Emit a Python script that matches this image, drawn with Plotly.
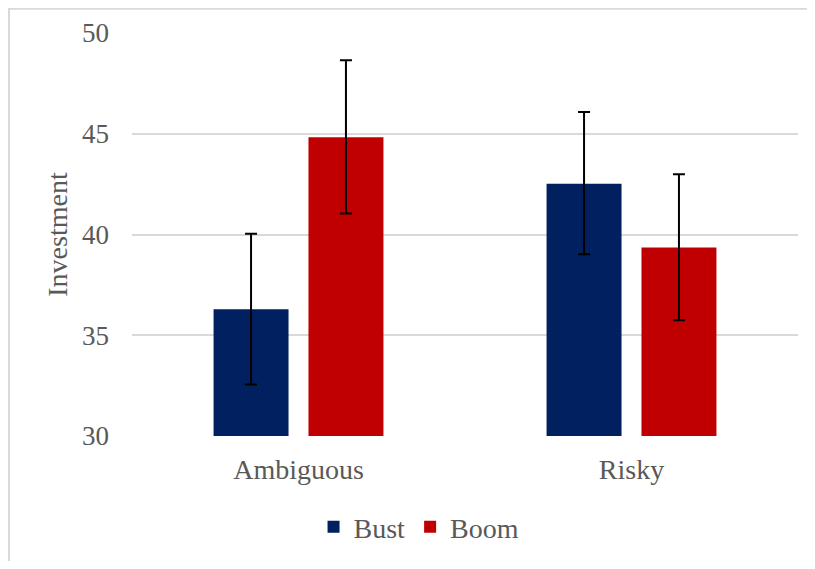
import plotly.graph_objects as go

categories = ["Ambiguous", "Risky"]
bust = [36.29, 42.52]
bust_hi = [40.04, 46.08]
bust_lo = [32.55, 39.02]
boom = [44.83, 39.35]
boom_hi = [48.65, 42.99]
boom_lo = [41.04, 35.74]
y_ticks = [30, 35, 40, 45, 50]

font_fam = "Liberation Serif, Times New Roman, serif"
gray = "#595959"

def err(vals, hi, lo, color="black"):
    return dict(type="data", symmetric=False,
                array=[h - v for h, v in zip(hi, vals)],
                arrayminus=[v - l for v, l in zip(vals, lo)],
                color=color, thickness=2, width=6)

fig = go.Figure()
fig.add_trace(go.Bar(name="Bust", x=categories, y=[v - 30 for v in bust], base=30,
                     marker=dict(color="#002060", line=dict(width=0)),
                     error_y=err(bust, bust_hi, bust_lo)))
fig.add_trace(go.Bar(name="Boom", x=categories, y=[v - 30 for v in boom], base=30,
                     marker=dict(color="#C00000", line=dict(width=0)),
                     error_y=err(boom, boom_hi, boom_lo)))

W, H = 799, 553
L, T, PW, PH = 124, 25.3, 666, 405
px = lambda x: (x - L) / PW
py = lambda y: (T + PH - y) / PH
border = dict(color="#d9d9d9", width=2)
fig.update_layout(
    width=W, height=H,
    margin=dict(l=L, r=W - L - PW, t=T, b=H - T - PH),
    paper_bgcolor="white", plot_bgcolor="white",
    barmode="group", bargap=0.43, bargroupgap=0.21,
    font=dict(family=font_fam, color=gray, size=28),
    showlegend=True,
    legend=dict(orientation="h", x=0.431, xanchor="center", y=-0.226, yanchor="middle",
                font=dict(size=28, color=gray), itemwidth=30, traceorder="normal"),
    yaxis=dict(range=[30, 50], tickvals=y_ticks, showgrid=True, gridcolor="#d9d9d9",
               gridwidth=1.5, zeroline=False, ticks="", ticklabelstandoff=22,
               title=dict(text="Investment", font=dict(size=28, color=gray), standoff=6),
               tickfont=dict(size=27, color=gray)),
    xaxis=dict(showline=False, ticks="", tickfont=dict(size=28, color=gray), ticklabelstandoff=14),
    shapes=[
        dict(type="line", xref="paper", yref="paper", x0=px(1), x1=px(1), y0=py(1), y1=py(H + 20),
             line=border, layer="below"),
        dict(type="line", xref="paper", yref="paper", x0=px(0), x1=px(W + 20), y0=py(1), y1=py(1),
             line=border, layer="below"),
    ],
)
fig.write_html("out.html")
